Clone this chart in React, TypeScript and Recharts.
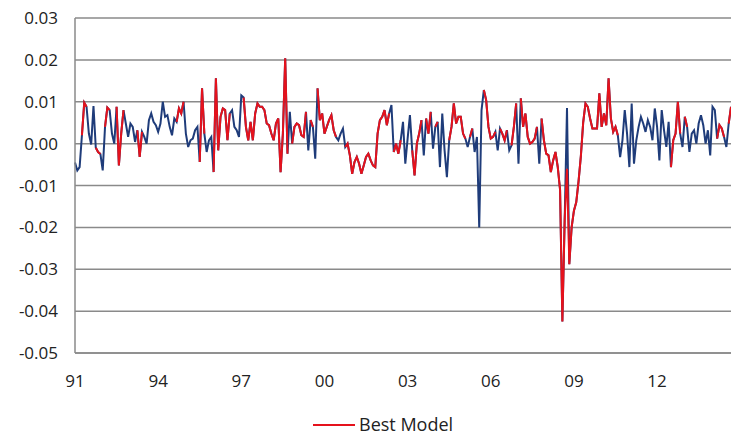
import React from 'react';
import { LineChart, Line, XAxis, YAxis, CartesianGrid, Legend } from 'recharts';

// Monthly series, Jan 1991 onwards
const START_YEAR = 1991;

const actual: number[] = [
  // 1991
  -0.0045, -0.0064, -0.0056, 0.002, 0.0098, 0.0088, 0.0024, -0.0002, 0.009, -0.001, -0.002, -0.0025,
  // 1992
  -0.0064, 0.004, 0.0086, 0.008, 0.0024, 0.0, 0.0088, -0.0052, 0.0024, 0.008, 0.0048, 0.0016,
  // 1993
  0.0048, 0.004, 0.0004, 0.0032, -0.0032, 0.0028, 0.0016, 0.0, 0.0056, 0.0072, 0.0052, 0.0044,
  // 1994
  0.0028, 0.0048, 0.01, 0.0064, 0.0068, 0.004, 0.002, 0.006, 0.0052, 0.0084, 0.0072, 0.01,
  // 1995
  0.0024, -0.0008, 0.0008, 0.0012, 0.0032, 0.004, -0.0044, 0.0132, 0.0024, -0.002, 0.0008, 0.0016,
  // 1996
  -0.0068, 0.0156, -0.0016, 0.0064, 0.0084, 0.008, 0.0008, 0.0072, 0.008, 0.004, 0.0032, 0.0016,
  // 1997
  0.0115, 0.011, 0.004, 0.0008, 0.0052, 0.0008, 0.0072, 0.0096, 0.0088, 0.0088, 0.008, 0.0048,
  // 1998
  0.0044, 0.0024, 0.0008, 0.0048, 0.006, -0.0068, 0.0024, 0.0204, -0.0024, 0.0076, 0.0, 0.004,
  // 1999
  0.0048, 0.0044, 0.002, 0.0016, 0.0076, -0.0016, 0.0056, 0.004, -0.0036, 0.0132, 0.0056, 0.0072,
  // 2000
  0.0024, 0.004, 0.0056, 0.0068, 0.0032, 0.0016, 0.0008, 0.0024, 0.0036, -0.0008, 0.0, -0.0028,
  // 2001
  -0.0072, -0.0044, -0.0032, -0.0048, -0.0072, -0.0052, -0.0032, -0.0024, -0.004, -0.0052, -0.0056, 0.0024,
  // 2002
  0.0056, 0.0064, 0.008, 0.0044, 0.0072, 0.0092, -0.002, 0.0, -0.0024, 0.0008, 0.0052, -0.0048,
  // 2003
  0.0012, 0.0068, -0.0016, -0.0076, 0.0, 0.0024, 0.0056, -0.0028, 0.006, 0.0024, 0.0076, -0.0012,
  // 2004
  0.004, 0.0052, -0.0056, 0.0072, -0.0016, -0.008, 0.0008, 0.004, 0.0096, 0.0048, 0.0064, 0.0064,
  // 2005
  0.0024, 0.0012, -0.0008, 0.0016, 0.0036, -0.002, 0.0016, -0.02, 0.008, 0.0128, 0.0104, 0.004,
  // 2006
  0.0012, 0.0016, 0.0028, -0.0016, 0.0036, 0.0024, 0.0008, 0.0032, -0.0016, -0.0004, 0.004, 0.0096,
  // 2007
  -0.0048, 0.0108, 0.004, 0.0072, 0.0016, 0.0, 0.0004, 0.0012, 0.004, -0.0048, 0.006, 0.0008,
  // 2008
  -0.0024, -0.0028, -0.0068, -0.004, -0.002, -0.0056, -0.011, -0.0425, -0.018, 0.0085, -0.0288, -0.02,
  // 2009
  -0.016, -0.014, -0.009, -0.003, 0.005, 0.0096, 0.0088, 0.006, 0.0036, 0.0036, 0.0036, 0.012,
  // 2010
  0.004, 0.0072, 0.0044, 0.0156, 0.006, 0.0028, 0.004, 0.002, -0.0032, 0.0008, 0.008, 0.0024,
  // 2011
  -0.0056, 0.0096, -0.0048, 0.0008, 0.004, 0.0064, 0.0048, 0.0028, 0.0056, 0.004, 0.0008, 0.0084,
  // 2012
  0.004, -0.004, 0.008, 0.0032, -0.0008, 0.0052, -0.0056, 0.0008, 0.0024, 0.01, 0.0024, -0.0008,
  // 2013
  0.0064, 0.004, -0.002, 0.0024, 0.0032, 0.0, 0.0048, 0.0068, 0.0044, 0.0, 0.0032, -0.0028,
  // 2014
  0.0088, 0.008, 0.0012, 0.0044, 0.0036, 0.0016, -0.0008, 0.0048, 0.0088,
];

// Month-index ranges (inclusive) where the best model applies
const bestModelSpans: [number, number][] = [
  [3, 5], [9, 11], [13, 15], [18, 21], [27, 29], [44, 47], [54, 56], [60, 67],
  [73, 92], [94, 100], [102, 103], [105, 113], [117, 136], [138, 141], [146, 150],
  [152, 154], [156, 157], [162, 169], [171, 172], [177, 182], [184, 187], [189, 191],
  [193, 200], [202, 235], [258, 262], [264, 265], [278, 281], [283, 284],
];

// Months where the best model's value departs from the actual series
const bestModelOverrides: [number, number][] = [
  [213, -0.006],
];

const tickYears = [1991, 1994, 1997, 2000, 2003, 2006, 2009, 2012];
const yTicks = [-0.05, -0.04, -0.03, -0.02, -0.01, 0, 0.01, 0.02, 0.03];

const monthKey = (i: number) =>
  `${START_YEAR + Math.floor(i / 12)}-${String((i % 12) + 1).padStart(2, '0')}`;

const inBestModel = (i: number) => bestModelSpans.some(([a, b]) => i >= a && i <= b);
const overrideMap = new Map(bestModelOverrides);

const data = actual.map((v, i) => ({
  date: monthKey(i),
  actual: v,
  best: inBestModel(i) ? (overrideMap.has(i) ? overrideMap.get(i)! : v) : null,
}));

const xTicks = tickYears.map((y) => `${y}-01`);

const FONT = '"Open Sans", sans-serif';
const NAVY = '#1f3c7a';
const RED = '#e5121c';
const GRID = '#8a8a8a';

const LegendContent = () => (
  <div style={{ position: 'relative', width: 731, height: 24, fontFamily: FONT }}>
    <svg style={{ position: 'absolute', left: 313, top: 0 }} width={42} height={24}>
      <line x1={0} y1={13} x2={42} y2={13} stroke={RED} strokeWidth={2} />
    </svg>
    <span
      style={{
        position: 'absolute',
        left: 359,
        top: 0,
        fontSize: 18,
        lineHeight: '24px',
        color: '#222',
        whiteSpace: 'nowrap',
      }}
    >
      Best Model
    </span>
  </div>
);

export default function App() {
  return (
    <div style={{ position: 'absolute', left: 0, top: 0, width: 731, height: 436, background: '#fff' }}>
      <LineChart
        width={731}
        height={436}
        data={data}
        margin={{ top: 18, right: 0, bottom: 0, left: 0 }}
      >
        <CartesianGrid vertical={false} stroke={GRID} strokeWidth={1.5} />
        <XAxis
          dataKey="date"
          ticks={xTicks}
          interval={0}
          tickFormatter={(d: string) => d.slice(2, 4)}
          tickLine={false}
          tickSize={0}
          tickMargin={22}
          height={59}
          axisLine={{ stroke: GRID, strokeWidth: 1.5 }}
          tick={{ fill: '#222', fontSize: 17, fontFamily: FONT }}
        />
        <YAxis
          type="number"
          domain={[-0.05, 0.03]}
          ticks={yTicks}
          interval={0}
          tickFormatter={(v: number) => v.toFixed(2)}
          width={75}
          tickLine={false}
          tickSize={0}
          tickMargin={17}
          axisLine={{ stroke: GRID, strokeWidth: 1.5 }}
          tick={{ fill: '#222', fontSize: 17, fontFamily: FONT }}
        />
        <Legend
          verticalAlign="bottom"
          content={() => <LegendContent />}
          wrapperStyle={{ left: 0, bottom: 0, width: 731, height: 24 }}
        />
        <Line
          type="linear"
          dataKey="actual"
          name="Actual"
          stroke={NAVY}
          strokeWidth={2}
          dot={false}
          legendType="none"
          isAnimationActive={false}
        />
        <Line
          type="linear"
          dataKey="best"
          name="Best Model"
          stroke={RED}
          strokeWidth={2}
          dot={false}
          connectNulls={false}
          isAnimationActive={false}
        />
      </LineChart>
    </div>
  );
}
